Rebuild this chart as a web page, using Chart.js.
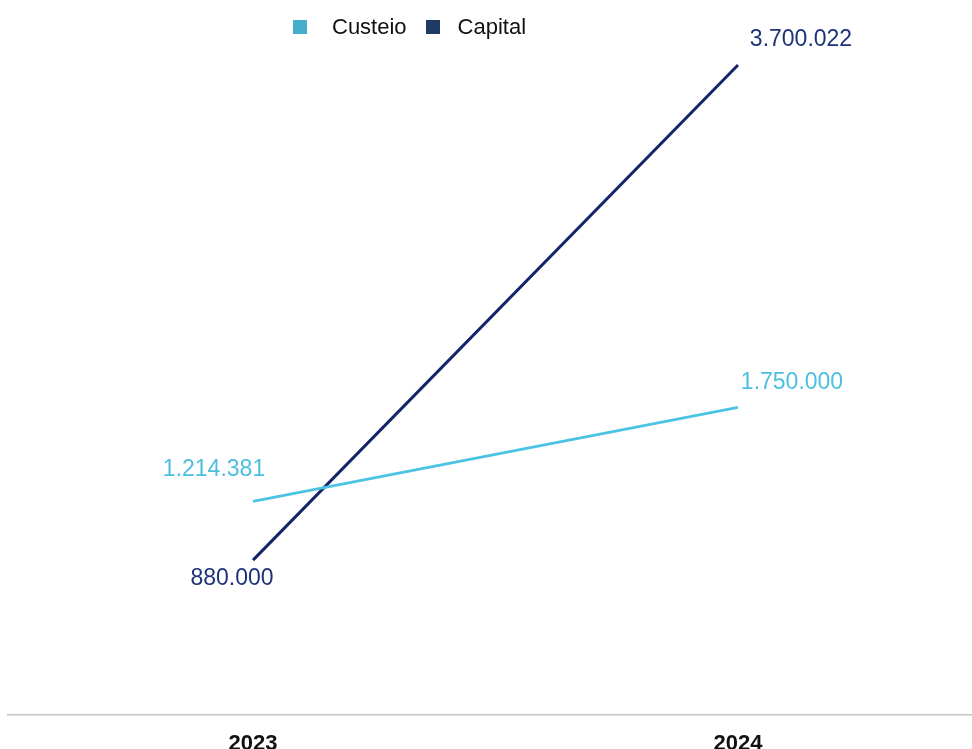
<!DOCTYPE html>
<html>
<head>
<meta charset="utf-8">
<script src="https://cdn.jsdelivr.net/npm/chart.js@4.4.1/dist/chart.umd.min.js"></script>
<style>
  html,body{margin:0;padding:0;background:#fff;}
  #wrap{position:relative;width:972px;height:749px;}
  #legend{position:absolute;top:14px;left:293px;display:flex;align-items:center;
    font-family:"Liberation Sans",Arial,sans-serif;font-size:22px;color:#111;}
  #legend .item{display:flex;align-items:center;margin-right:19px;}
  #legend .box{width:14px;height:14px;margin-right:25px;}
  #legend .item + .item .box{margin-right:18px;}
</style>
</head>
<body>
<div id="wrap">
  <canvas id="c" width="972" height="749"></canvas>
  <div id="legend"></div>
</div>
<script>
/* ---------- data ---------- */
const years   = [2023, 2024];
const custeio = [1214381, 1750000];
const capital = [880000, 3700022];

const fmt = v => v.toLocaleString('de-DE');   // 1.214.381
const pts = arr => arr.map((v, i) => ({x: years[i], y: v}));

/* value labels next to each point */
const valueLabels = {
  id: 'valueLabels',
  afterDatasetsDraw(chart){
    const ctx = chart.ctx;
    chart.data.datasets.forEach((ds, i) => {
      chart.getDatasetMeta(i).data.forEach((pt, j) => {
        const o = ds.labelOffsets[j];
        ctx.save();
        ctx.font = '23px "Liberation Sans", Arial, sans-serif';
        ctx.fillStyle = ds.labelColor;
        ctx.textAlign = 'center';
        ctx.textBaseline = 'middle';
        ctx.fillText(fmt(ds.data[j].y), pt.x + o[0], pt.y + o[1]);
        ctx.restore();
      });
    });
  }
};

const chart = new Chart(document.getElementById('c'), {
  type: 'line',
  data: {
    datasets: [
      {label:'Custeio', data: pts(custeio), borderColor:'#4cc3e2', borderWidth:3,
       legendColor:'#45aecb', labelColor:'#4cbfe0',
       labelOffsets:[[-39,-32],[54,-25]], pointRadius:0, clip:false},
      {label:'Capital', data: pts(capital), borderColor:'#14246a', borderWidth:3,
       legendColor:'#1f3a63', labelColor:'#1d3277',
       labelOffsets:[[-21,19],[63,-25]], pointRadius:0, clip:false},
    ]
  },
  options: {
    responsive:false, animation:false,
    layout:{padding:{top:65,left:8,right:0,bottom:-24}},
    plugins:{legend:{display:false}, tooltip:{enabled:false}},
    scales:{
      x:{type:'linear', min:2022.4948, max:2024.4825,
         afterBuildTicks: s => { s.ticks = years.map(v => ({value:v})); },
         grid:{display:false, drawTicks:false},
         border:{display:true, color:'#c4c4c4', width:1.5},
         ticks:{padding:16, color:'#111', callback:v => String(v),
                font:{family:'"Liberation Sans", Arial, sans-serif', size:22, weight:'bold'}}},
      y:{display:false, min:0, max:3700022}
    }
  },
  plugins:[valueLabels]
});

/* html legend */
document.getElementById('legend').innerHTML = chart.data.datasets.map(ds =>
  `<div class="item"><span class="box" style="background:${ds.legendColor}"></span>${ds.label}</div>`).join('');
</script>
</body>
</html>
